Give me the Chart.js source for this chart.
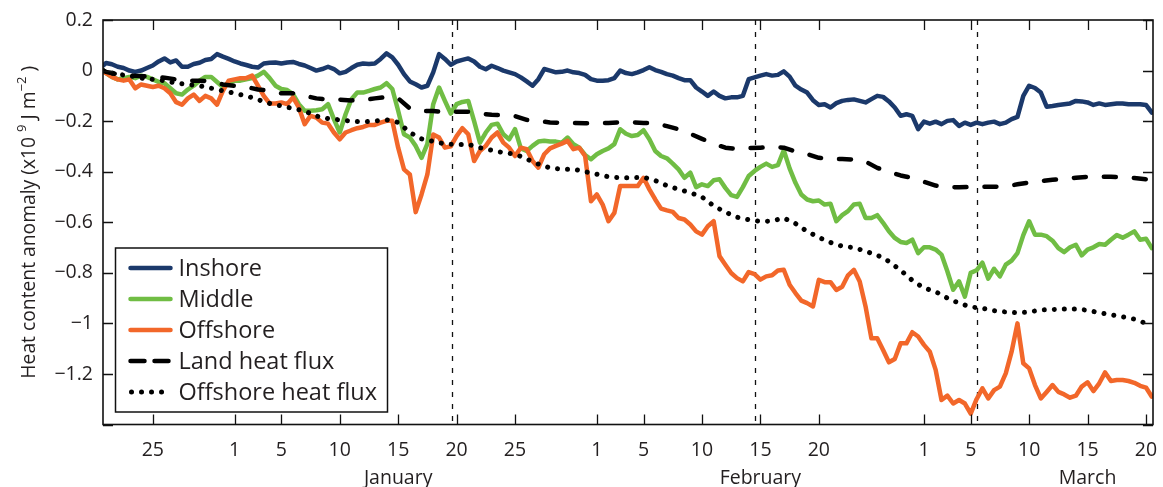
<!DOCTYPE html>
<html>
<head>
<meta charset="utf-8">
<title>Heat content anomaly</title>
<script src="https://cdn.jsdelivr.net/npm/chart.js@4.4.1/dist/chart.umd.min.js"></script>
<style>
  html, body { margin: 0; padding: 0; background: #ffffff; }
  #wrap { width: 1163px; height: 487px; position: relative; }
</style>
</head>
<body>
<div id="wrap"><canvas id="chart"></canvas></div>
<script>
// Time axis: days counted from 1 January (Dec 25 = -7, Feb 1 = 31, Mar 1 = 59).
const halfDays = [
  -11.25,
  -11, -10.5, -10, -9.5, -9, -8.5, -8, -7.5, -7, -6.5,
  -6, -5.5, -5, -4.5, -4, -3.5, -3, -2.5, -2, -1.5,
  -1, -0.5, 0, 0.5, 1, 1.5, 2, 2.5, 3, 3.5,
  4, 4.5, 5, 5.5, 6, 6.5, 7, 7.5, 8, 8.5,
  9, 9.5, 10, 10.5, 11, 11.5, 12, 12.5, 13, 13.5,
  14, 14.5, 15, 15.5, 16, 16.5, 17, 17.5, 18, 18.5,
  19, 19.5, 20, 20.5, 21, 21.5, 22, 22.5, 23, 23.5,
  24, 24.5, 25, 25.5, 26, 26.5, 27, 27.5, 28, 28.5,
  29, 29.5, 30, 30.5, 31, 31.5, 32, 32.5, 33, 33.5,
  34, 34.5, 35, 35.5, 36, 36.5, 37, 37.5, 38, 38.5,
  39, 39.5, 40, 40.5, 41, 41.5, 42, 42.5, 43, 43.5,
  44, 44.5, 45, 45.5, 46, 46.5, 47, 47.5, 48, 48.5,
  49, 49.5, 50, 50.5, 51, 51.5, 52, 52.5, 53, 53.5,
  54, 54.5, 55, 55.5, 56, 56.5, 57, 57.5, 58, 58.5,
  59, 59.5, 60, 60.5, 61, 61.5, 62, 62.5, 63, 63.5,
  64, 64.5, 65, 65.5, 66, 66.5, 67, 67.5, 68, 68.5,
  69, 69.5, 70, 70.5, 71, 71.5, 72, 72.5, 73, 73.5,
  74, 74.5, 75, 75.5, 76, 76.5, 77, 77.5, 78, 78.5
];

const inshore = [
  0.02,
  0.03, 0.025, 0.015, 0.01, 0.0, -0.005, 0.0, 0.01, 0.02, 0.036,
  0.048, 0.032, 0.04, 0.015, 0.015, 0.026, 0.031, 0.042, 0.046, 0.065,
  0.055, 0.046, 0.036, 0.028, 0.022, 0.015, 0.012, 0.028, 0.031, 0.032,
  0.028, 0.032, 0.034, 0.026, 0.02, 0.01, 0.0, 0.006, 0.015, 0.006,
  -0.011, -0.005, 0.01, 0.023, 0.028, 0.026, 0.028, 0.046, 0.068, 0.052,
  0.023, -0.014, -0.043, -0.054, -0.067, -0.06, -0.007, 0.065, 0.046, 0.023,
  0.036, 0.042, 0.048, 0.036, 0.015, 0.005, 0.019, 0.01, 0.0, -0.007,
  -0.014, -0.027, -0.043, -0.06, -0.034, 0.006, 0.0, -0.007, -0.005, 0.0,
  -0.007, -0.01, -0.017, -0.034, -0.04, -0.04, -0.038, -0.03, 0.0, -0.01,
  -0.014, -0.007, 0.002, 0.013, 0.002, -0.005, -0.014, -0.02, -0.03, -0.038,
  -0.038, -0.067, -0.083, -0.1, -0.083, -0.1, -0.11, -0.106, -0.106, -0.1,
  -0.034, -0.027, -0.02, -0.014, -0.02, -0.017, -0.003, -0.024, -0.06, -0.075,
  -0.087, -0.117, -0.136, -0.133, -0.146, -0.129, -0.12, -0.116, -0.114, -0.12,
  -0.126, -0.113, -0.1, -0.104, -0.122, -0.146, -0.179, -0.173, -0.179, -0.232,
  -0.202, -0.21, -0.202, -0.212, -0.199, -0.196, -0.219, -0.206, -0.215, -0.206,
  -0.212, -0.206, -0.202, -0.212, -0.206, -0.192, -0.183, -0.1, -0.06, -0.069,
  -0.087, -0.143, -0.14, -0.136, -0.133, -0.13, -0.12, -0.122, -0.126, -0.136,
  -0.13, -0.136, -0.133, -0.13, -0.13, -0.133, -0.133, -0.133, -0.136, -0.166
];

const middle = [
  0.0,
  -0.01, -0.025, -0.035, -0.03, -0.025, -0.03, -0.02, -0.025, -0.035, -0.045,
  -0.05, -0.07, -0.09, -0.095, -0.075, -0.06, -0.04, -0.025, -0.025, -0.045,
  -0.065, -0.05, -0.04, -0.04, -0.035, -0.03, -0.02, -0.005, -0.03, -0.06,
  -0.073, -0.077, -0.093, -0.133, -0.159, -0.159, -0.157, -0.153, -0.133, -0.192,
  -0.245, -0.173, -0.113, -0.087, -0.087, -0.08, -0.073, -0.067, -0.05, -0.073,
  -0.159, -0.252, -0.265, -0.298, -0.345, -0.29, -0.133, -0.067, -0.12, -0.17,
  -0.133, -0.124, -0.12, -0.2, -0.285, -0.245, -0.215, -0.21, -0.252, -0.272,
  -0.232, -0.308, -0.318, -0.298, -0.281, -0.278, -0.281, -0.281, -0.285, -0.265,
  -0.291, -0.305, -0.334, -0.351, -0.331, -0.318, -0.308, -0.291, -0.232, -0.25,
  -0.259, -0.255, -0.236, -0.272, -0.318, -0.338, -0.347, -0.368, -0.391, -0.424,
  -0.404, -0.461, -0.45, -0.457, -0.434, -0.43, -0.464, -0.493, -0.5, -0.461,
  -0.417, -0.397, -0.381, -0.368, -0.381, -0.374, -0.315, -0.387, -0.444, -0.49,
  -0.51, -0.517, -0.514, -0.53, -0.527, -0.596, -0.572, -0.556, -0.53, -0.527,
  -0.583, -0.583, -0.572, -0.602, -0.636, -0.662, -0.678, -0.682, -0.669, -0.722,
  -0.699, -0.699, -0.708, -0.728, -0.794, -0.867, -0.834, -0.894, -0.8, -0.79,
  -0.76, -0.823, -0.784, -0.814, -0.768, -0.752, -0.722, -0.651, -0.596, -0.649,
  -0.649, -0.655, -0.673, -0.702, -0.718, -0.699, -0.689, -0.731, -0.708, -0.699,
  -0.686, -0.689, -0.669, -0.651, -0.661, -0.649, -0.636, -0.669, -0.665, -0.702
];

const offshore = [
  -0.005,
  -0.01, -0.025, -0.035, -0.04, -0.035, -0.07, -0.055, -0.06, -0.065, -0.06,
  -0.07, -0.09, -0.125, -0.135, -0.11, -0.095, -0.12, -0.1, -0.11, -0.135,
  -0.08, -0.04, -0.035, -0.03, -0.03, -0.02, -0.06, -0.1, -0.13, -0.13,
  -0.126, -0.133, -0.106, -0.146, -0.212, -0.179, -0.186, -0.206, -0.21, -0.245,
  -0.272, -0.245, -0.236, -0.228, -0.223, -0.215, -0.215, -0.206, -0.199, -0.199,
  -0.305, -0.391, -0.411, -0.56, -0.49, -0.411, -0.253, -0.265, -0.305, -0.3,
  -0.259, -0.228, -0.252, -0.358, -0.318, -0.298, -0.265, -0.245, -0.285, -0.305,
  -0.338, -0.305, -0.311, -0.358, -0.384, -0.331, -0.308, -0.298, -0.289, -0.278,
  -0.311, -0.305, -0.338, -0.517, -0.49, -0.53, -0.596, -0.563, -0.457, -0.457,
  -0.457, -0.457, -0.424, -0.47, -0.51, -0.546, -0.553, -0.559, -0.583, -0.589,
  -0.609, -0.636, -0.649, -0.616, -0.596, -0.734, -0.768, -0.801, -0.821, -0.834,
  -0.797, -0.805, -0.827, -0.814, -0.81, -0.791, -0.788, -0.847, -0.88, -0.91,
  -0.92, -0.933, -0.828, -0.837, -0.837, -0.868, -0.855, -0.81, -0.788, -0.834,
  -0.933, -1.059, -1.059, -1.105, -1.154, -1.141, -1.079, -1.079, -1.035, -1.052,
  -1.085, -1.112, -1.184, -1.303, -1.286, -1.317, -1.303, -1.317, -1.357, -1.3,
  -1.257, -1.297, -1.264, -1.25, -1.198, -1.112, -1.0, -1.158, -1.178, -1.244,
  -1.297, -1.271, -1.244, -1.271, -1.281, -1.294, -1.286, -1.25, -1.233, -1.268,
  -1.237, -1.194, -1.228, -1.224, -1.224, -1.228, -1.235, -1.247, -1.254, -1.29
];

// Daily values of the two heat-flux estimates
const fluxDays = [
  -11.25,
  -11, -10, -9, -8, -7, -6, -5, -4, -3, -2,
  -1, 0, 1, 2, 3, 4, 5, 6, 7, 8,
  9, 10, 11, 12, 13, 14, 15, 16, 17, 18,
  19, 20, 21, 22, 23, 24, 25, 26, 27, 28,
  29, 30, 31, 32, 33, 34, 35, 36, 37, 38,
  39, 40, 41, 42, 43, 44, 45, 46, 47, 48,
  49, 50, 51, 52, 53, 54, 55, 56, 57, 58,
  59, 60, 61, 62, 63, 64, 65, 66, 67, 68,
  69, 70, 71, 72, 73, 74, 75, 76, 77, 78,
  78.5
];

const landFlux = [
  0.0,
  -0.005, -0.015, -0.02, -0.022, -0.025, -0.028, -0.035, -0.04, -0.04, -0.042,
  -0.055, -0.06, -0.065, -0.075, -0.08, -0.09, -0.09, -0.1, -0.11, -0.115,
  -0.115, -0.118, -0.117, -0.11, -0.105, -0.11, -0.15, -0.16, -0.16, -0.165,
  -0.163, -0.163, -0.17, -0.175, -0.177, -0.18, -0.195, -0.2, -0.205, -0.207,
  -0.207, -0.208, -0.208, -0.207, -0.205, -0.205, -0.207, -0.208, -0.22, -0.232,
  -0.25, -0.27, -0.29, -0.305, -0.31, -0.307, -0.305, -0.302, -0.305, -0.32,
  -0.33, -0.345, -0.35, -0.35, -0.352, -0.36, -0.385, -0.4, -0.415, -0.425,
  -0.44, -0.455, -0.46, -0.462, -0.46, -0.46, -0.46, -0.458, -0.45, -0.443,
  -0.437, -0.432, -0.428, -0.424, -0.42, -0.42, -0.42, -0.423, -0.425, -0.43,
  -0.437
];

const offshoreFlux = [
  0.0,
  -0.005, -0.015, -0.02, -0.03, -0.035, -0.04, -0.05, -0.055, -0.06, -0.07,
  -0.08, -0.09, -0.1, -0.115, -0.13, -0.14, -0.15, -0.16, -0.18, -0.19,
  -0.195, -0.2, -0.203, -0.2, -0.195, -0.205, -0.245, -0.27, -0.28, -0.29,
  -0.292, -0.292, -0.305, -0.315, -0.325, -0.33, -0.35, -0.37, -0.385, -0.39,
  -0.39, -0.4, -0.41, -0.42, -0.424, -0.424, -0.422, -0.435, -0.455, -0.47,
  -0.483, -0.5, -0.535, -0.56, -0.58, -0.59, -0.597, -0.595, -0.583, -0.605,
  -0.636, -0.66, -0.68, -0.695, -0.7, -0.715, -0.73, -0.755, -0.79, -0.83,
  -0.86, -0.875, -0.9, -0.92, -0.935, -0.94, -0.95, -0.955, -0.958, -0.955,
  -0.947, -0.945, -0.943, -0.943, -0.948, -0.958, -0.966, -0.974, -0.983, -1.0,
  -1.006
];

// Axis ticks and labels
const xTickDays   = [-7, 0, 4, 9, 14, 19, 24, 31, 35, 40, 45, 50, 59, 63, 68, 73, 78];
const xTickLabels = ['25', '1', '5', '10', '15', '20', '25', '1', '5', '10', '15', '20', '1', '5', '10', '15', '20'];
const monthDays   = [14, 45, 73];
const monthNames  = ['January', 'February', 'March'];
const yTickValues = [0.2, 0, -0.2, -0.4, -0.6, -0.8, -1, -1.2, -1.4];
const yTickLabels = ['0.2', '0', '−0.2', '−0.4', '−0.6', '−0.8', '−1', '−1.2', ''];
const eventDays   = [18.6, 44.55, 63.55];

const FONT = '"Open Sans", "DejaVu Sans", sans-serif';
const INK = '#231f20';
const NAVY = '#1b396b';
const GREEN = '#70bd44';
const ORANGE = '#f2672a';
const LINE_W = 4.5;

const pairs = (xs, ys) => xs.map((x, i) => ({ x: x, y: ys[i] }));

// Dashed verticals, box frame with inward ticks, legend box and rotated axis title
const decorations = {
  id: 'decorations',
  beforeDatasetsDraw(chart) {
    const { ctx, chartArea: a, scales: { x } } = chart;
    ctx.save();
    ctx.strokeStyle = '#111';
    ctx.lineWidth = 1.3;
    ctx.setLineDash([5, 7]);
    eventDays.forEach(d => {
      const px = Math.round(x.getPixelForValue(d)) + 0.5;
      ctx.beginPath();
      ctx.moveTo(px, a.top);
      ctx.lineTo(px, a.bottom);
      ctx.stroke();
    });
    ctx.restore();
  },
  afterDatasetsDraw(chart) {
    const { ctx, chartArea: a, scales: { x, y } } = chart;
    ctx.save();
    // ticks on all four sides, pointing inward
    ctx.strokeStyle = '#111';
    ctx.lineWidth = 1.3;
    const tl = 10;
    xTickDays.forEach(d => {
      const px = Math.round(x.getPixelForValue(d)) + 0.5;
      ctx.beginPath();
      ctx.moveTo(px, a.bottom); ctx.lineTo(px, a.bottom - tl);
      ctx.moveTo(px, a.top); ctx.lineTo(px, a.top + tl);
      ctx.stroke();
    });
    yTickValues.forEach(v => {
      const py = Math.round(y.getPixelForValue(v)) + 0.5;
      ctx.beginPath();
      ctx.moveTo(a.left, py); ctx.lineTo(a.left + tl, py);
      ctx.moveTo(a.right, py); ctx.lineTo(a.right - tl, py);
      ctx.stroke();
    });
    // box
    ctx.lineWidth = 1.6;
    ctx.strokeRect(a.left, a.top, a.right - a.left, a.bottom - a.top);

    // legend
    const L = { x: a.left + 12.5, y: a.top + 228, w: 272, h: 164 };
    ctx.fillStyle = '#ffffff';
    ctx.fillRect(L.x, L.y, L.w, L.h);
    ctx.lineWidth = 1.5;
    ctx.strokeStyle = '#111';
    ctx.strokeRect(L.x, L.y, L.w, L.h);
    const legendDash = { 'Land heat flux': [14, 10], 'Offshore heat flux': [0.01, 10] };
    chart.data.datasets.forEach((ds, i) => {
      const cy = L.y + 20 + i * 31;
      ctx.save();
      ctx.strokeStyle = ds.borderColor;
      ctx.lineWidth = ds.borderWidth;
      ctx.lineCap = 'round';
      ctx.setLineDash(legendDash[ds.label] || []);
      ctx.beginPath();
      if (ds.label === 'Offshore heat flux') {
        ctx.moveTo(L.x + 16, cy); ctx.lineTo(L.x + 47, cy);
      } else {
        ctx.moveTo(L.x + 15, cy); ctx.lineTo(L.x + 55, cy);
      }
      ctx.stroke();
      ctx.restore();
      ctx.fillStyle = INK;
      ctx.font = '23.5px ' + FONT;
      ctx.textBaseline = 'middle';
      ctx.textAlign = 'left';
      ctx.fillText(ds.label, L.x + 63, cy + 1);
    });
    ctx.restore();
  },
  afterDraw(chart) {
    const { ctx, chartArea: a } = chart;
    ctx.save();
    ctx.translate(28, (a.top + a.bottom) / 2);
    ctx.rotate(-Math.PI / 2);
    ctx.fillStyle = INK;
    ctx.textBaseline = 'alphabetic';
    const big = '19.3px ' + FONT;
    const small = '13px ' + FONT;
    const parts = [
      ['Heat content anomaly (x10 ', big, 0],
      ['9', small, -9],
      [' J m', big, 0],
      ['−2', small, -9],
      [' )', big, 0]
    ];
    let total = 0;
    parts.forEach(p => { ctx.font = p[1]; p.push(ctx.measureText(p[0]).width); total += p[3]; });
    let cx = -total / 2;
    parts.forEach(p => { ctx.font = p[1]; ctx.fillText(p[0], cx, 7 + p[2]); cx += p[3]; });
    ctx.restore();
  }
};

new Chart(document.getElementById('chart'), {
  type: 'line',
  data: {
    datasets: [
      { label: 'Inshore', data: pairs(halfDays, inshore), borderColor: NAVY, borderWidth: LINE_W, order: 5 },
      { label: 'Middle', data: pairs(halfDays, middle), borderColor: GREEN, borderWidth: LINE_W, order: 4 },
      { label: 'Offshore', data: pairs(halfDays, offshore), borderColor: ORANGE, borderWidth: LINE_W, order: 3 },
      { label: 'Land heat flux', data: pairs(fluxDays, landFlux), borderColor: '#000000', borderWidth: LINE_W,
        borderDash: [12, 18], order: 2 },
      { label: 'Offshore heat flux', data: pairs(fluxDays, offshoreFlux), borderColor: '#000000', borderWidth: 5,
        borderDash: [0.01, 10], order: 1 }
    ]
  },
  options: {
    responsive: true,
    maintainAspectRatio: false,
    animation: false,
    devicePixelRatio: 1,
    events: [],
    layout: { padding: { left: 0, right: 10, top: 20, bottom: 0 } },
    elements: {
      point: { radius: 0, hoverRadius: 0 },
      line: { tension: 0, borderJoinStyle: 'round', borderCapStyle: 'round', fill: false }
    },
    plugins: { legend: { display: false }, tooltip: { enabled: false } },
    scales: {
      x: {
        type: 'linear',
        min: -11.26,
        max: 78.6,
        grid: { display: false, drawTicks: false },
        border: { display: false },
        afterBuildTicks: s => { s.ticks = xTickDays.map(v => ({ value: v })); },
        afterFit: s => { s.height = 62.5; s.paddingLeft = 0; s.paddingRight = 0; },
        ticks: {
          autoSkip: false, maxRotation: 0, minRotation: 0, padding: 11.5, color: INK,
          font: { family: FONT, size: 19.5, lineHeight: 1.436 },
          callback: (value, index) => {
            const m = monthDays.indexOf(value);
            return m >= 0 ? [xTickLabels[index], monthNames[m]] : xTickLabels[index];
          }
        }
      },
      y: {
        type: 'linear',
        min: -1.4,
        max: 0.2,
        grid: { display: false, drawTicks: false },
        border: { display: false },
        afterBuildTicks: s => { s.ticks = yTickValues.map(v => ({ value: v })); },
        afterFit: s => { s.width = 103; s.paddingTop = 0; s.paddingBottom = 0; },
        ticks: {
          autoSkip: false, padding: 10, color: INK,
          font: { family: FONT, size: 19.5 },
          callback: (value, index) => yTickLabels[index]
        }
      }
    }
  },
  plugins: [decorations]
});
</script>
</body>
</html>
